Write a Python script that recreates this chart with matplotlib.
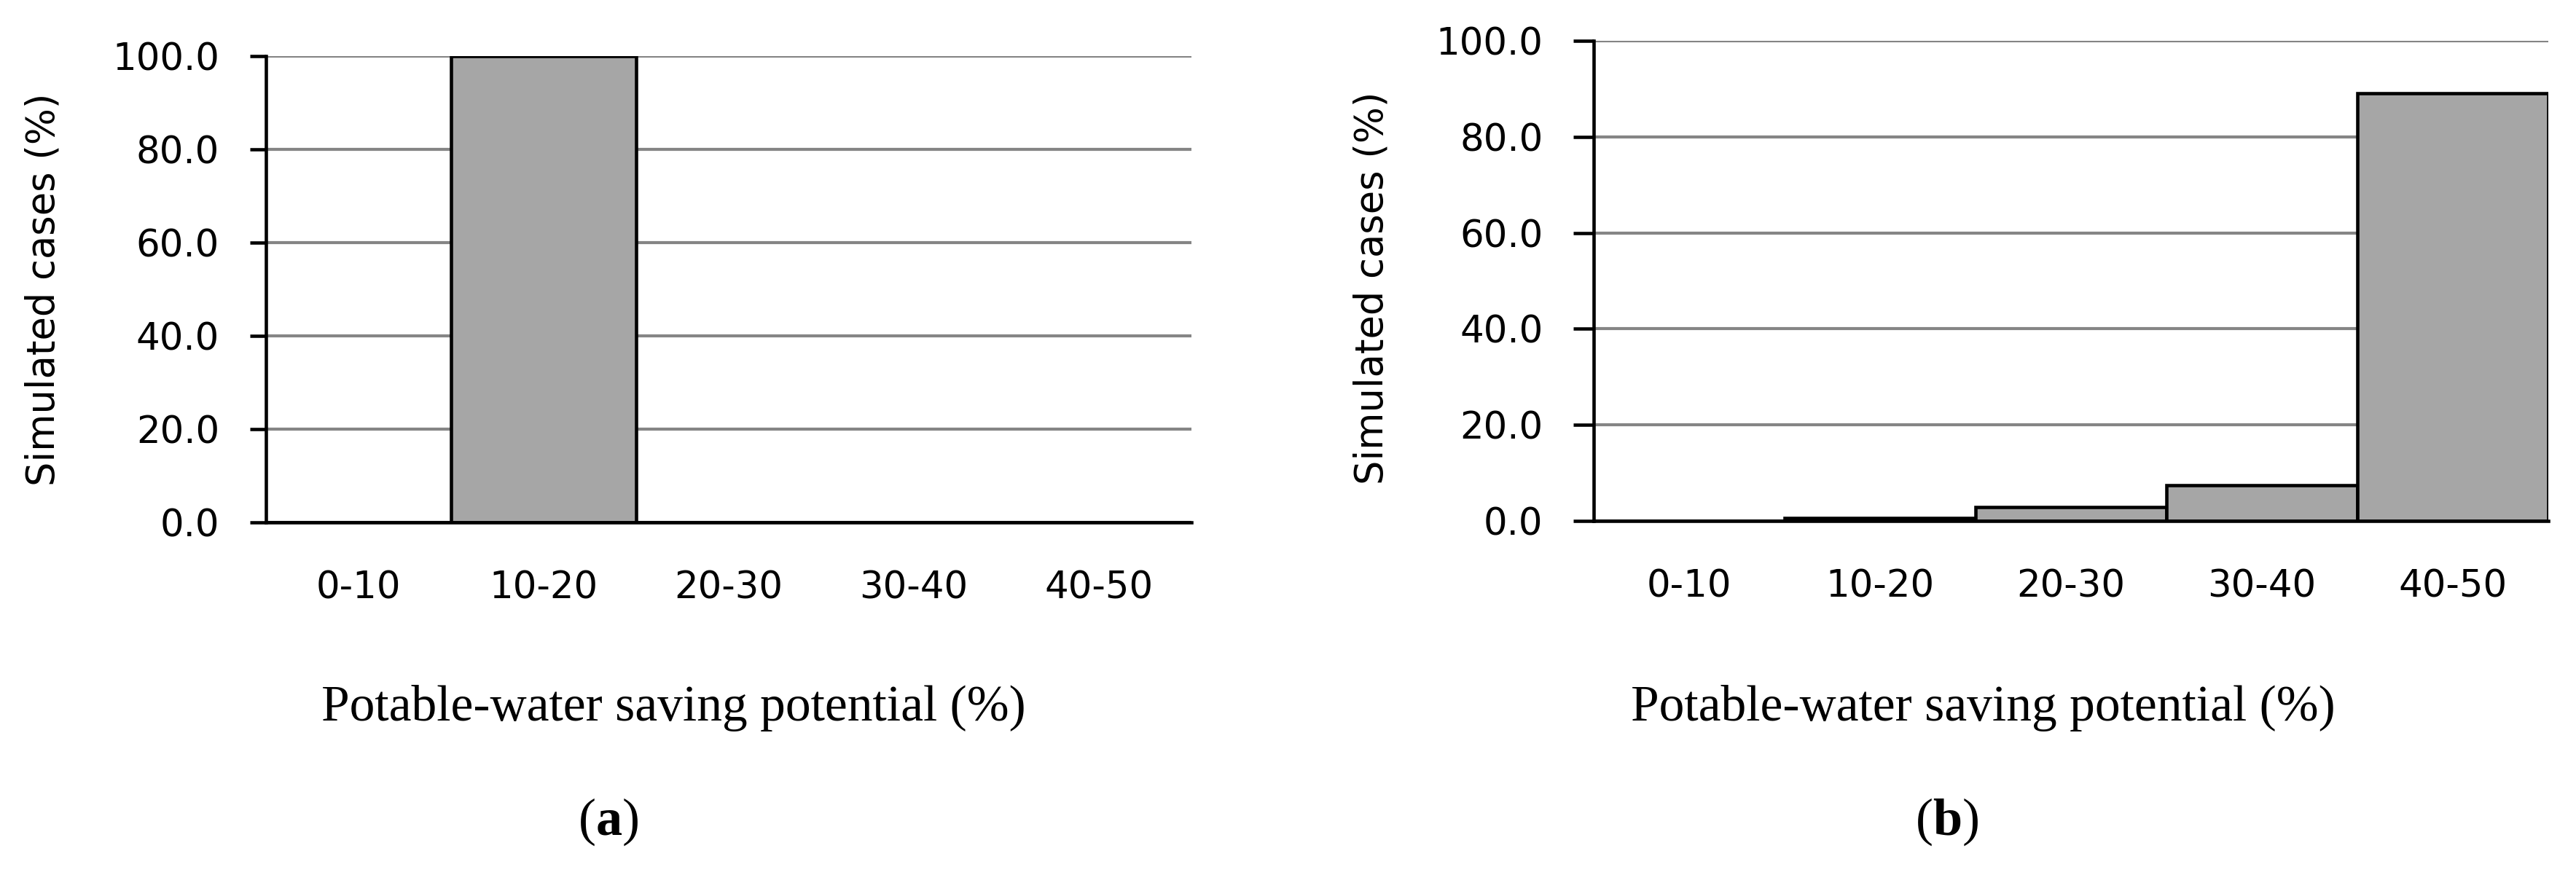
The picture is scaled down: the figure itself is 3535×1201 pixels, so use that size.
import numpy as np
import matplotlib.pyplot as plt

# Datos: porcentaje de casos simulados por rango de potencial de ahorro
categories = ['0-10', '10-20', '20-30', '30-40', '40-50']
cases_a = [0.0, 100.0, 0.0, 0.0, 0.0]
cases_b = [0.0, 0.6, 2.9, 7.4, 89.1]
y_ticks = [0, 20, 40, 60, 80, 100]
panel_labels = ['a', 'b']

xlabel = 'Potable-water saving potential (%)'
ylabel = 'Simulated cases (%)'

plt.rcParams['mathtext.fontset'] = 'custom'
plt.rcParams['mathtext.rm'] = 'Liberation Serif'
plt.rcParams['mathtext.bf'] = 'Liberation Serif:bold'

fig = plt.figure(figsize=(35.35, 12.01), dpi=100)

# posiciones de los ejes (fracciones de la figura)
ax_a = fig.add_axes([0.10325, 0.40300, 0.35926, 0.53289])
ax_b = fig.add_axes([0.61867, 0.40466, 0.37058, 0.54871])


def draw_panel(ax, values, tick_len):
    x = np.arange(len(categories))
    ax.set_axisbelow(True)
    ax.bar(x, values, width=1.0, color='#a6a6a6', edgecolor='black', linewidth=3.3, zorder=3)
    ax.set_xlim(-0.5, len(categories) - 0.5)
    ax.set_ylim(0, 100)
    ax.set_yticks(y_ticks)
    ax.set_yticklabels([f'{v:.1f}' for v in y_ticks])
    ax.set_xticks(x)
    ax.set_xticklabels(categories)
    ax.yaxis.grid(True, color='#858585', linewidth=3.0)
    for side in ['top', 'right']:
        ax.spines[side].set_visible(False)
    for side in ['left', 'bottom']:
        ax.spines[side].set_linewidth(3.3)
        ax.spines[side].set_zorder(4)
    ax.tick_params(axis='y', length=tick_len, width=3.3, pad=30, labelsize=37)
    ax.tick_params(axis='x', length=0, pad=47, labelsize=37)
    for lab in ax.get_xticklabels() + ax.get_yticklabels():
        lab.set_family('DejaVu Sans')


draw_panel(ax_a, cases_a, 16)
draw_panel(ax_b, cases_b, 20)

# etiquetas de los ejes
fig.text(60 / 3535, 1 - 397 / 1201, ylabel, rotation=90, ha='center', va='center',
         fontsize=38, family='DejaVu Sans')
fig.text(1883 / 3535, 1 - 395 / 1201, ylabel, rotation=90, ha='center', va='center',
         fontsize=38, family='DejaVu Sans')
fig.text(924 / 3535, 1 - 972 / 1201, xlabel, ha='center', va='center',
         fontsize=50, family='Liberation Serif')
fig.text(2721 / 3535, 1 - 972 / 1201, xlabel, ha='center', va='center',
         fontsize=50, family='Liberation Serif')

# letras de los paneles
for xc, letter in zip([835, 2672], panel_labels):
    fig.text(xc / 3535, 1 - 1128 / 1201, r'$\mathrm{(}\mathbf{' + letter + r'}\mathrm{)}$',
             ha='center', va='center', fontsize=52)

fig.savefig('out.png', dpi=100, facecolor='white')
